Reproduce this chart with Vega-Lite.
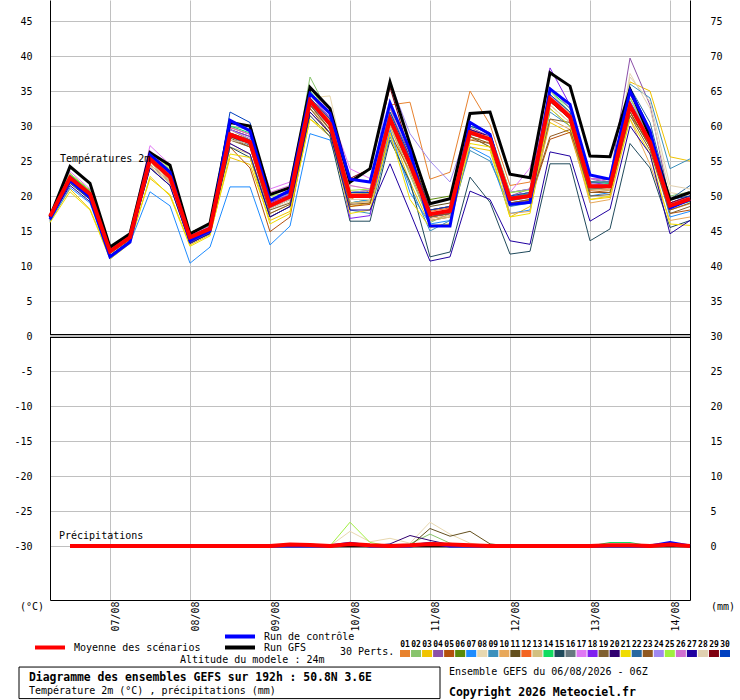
{
"$schema":"https://vega.github.io/schema/vega-lite/v6.json",
"width":640,"height":600,
"autosize":{"type":"none"},
"padding":{"left":50,"top":0,"right":50,"bottom":100},
"background":"#ffffff",
"config":{"font":"DejaVu Sans Mono","view":{"stroke":null},"axis":{"labelFont":"DejaVu Sans Mono"},"legend":{"labelFont":"DejaVu Sans Mono","labelColor":"#000000"},"text":{"font":"DejaVu Sans Mono","fontSize":10,"color":"#000000"}},
"datasets":{
"perts":[{"s":"01"},{"s":"02"},{"s":"03"},{"s":"04"},{"s":"05"},{"s":"06"},{"s":"07"},{"s":"08"},{"s":"09"},{"s":"10"},{"s":"11"},{"s":"12"},{"s":"13"},{"s":"14"},{"s":"15"},{"s":"16"},{"s":"17"},{"s":"18"},{"s":"19"},{"s":"20"},{"s":"21"},{"s":"22"},{"s":"23"},{"s":"24"},{"s":"25"},{"s":"26"},{"s":"27"},{"s":"28"},{"s":"29"},{"s":"30"}],
"steps":[{"k":0,"t":1785996000000},{"k":1,"t":1786017600000},{"k":2,"t":1786039200000},{"k":3,"t":1786060800000},{"k":4,"t":1786082400000},{"k":5,"t":1786104000000},{"k":6,"t":1786125600000},{"k":7,"t":1786147200000},{"k":8,"t":1786168800000},{"k":9,"t":1786190400000},{"k":10,"t":1786212000000},{"k":11,"t":1786233600000},{"k":12,"t":1786255200000},{"k":13,"t":1786276800000},{"k":14,"t":1786298400000},{"k":15,"t":1786320000000},{"k":16,"t":1786341600000},{"k":17,"t":1786363200000},{"k":18,"t":1786384800000},{"k":19,"t":1786406400000},{"k":20,"t":1786428000000},{"k":21,"t":1786449600000},{"k":22,"t":1786471200000},{"k":23,"t":1786492800000},{"k":24,"t":1786514400000},{"k":25,"t":1786536000000},{"k":26,"t":1786557600000},{"k":27,"t":1786579200000},{"k":28,"t":1786600800000},{"k":29,"t":1786622400000},{"k":30,"t":1786644000000},{"k":31,"t":1786665600000},{"k":32,"t":1786687200000}],
"temp":[
{"s":"01","kind":"pert","k":[0,1,2,3,4,5,6,7,8,9,10,11,12,13,14,15,16,17,18,19,20,21,22,23,24,25,26,27,28,29,30,31,32],"v":[17.0,22.9,20.6,12.2,14.3,25.8,23.0,14.5,15.9,29.5,28.0,19.2,20.3,34.0,30.8,19.5,20.8,33.0,33.4,22.4,23.4,35.0,30.2,21.5,22.0,33.0,30.5,20.8,21.0,32.0,27.0,18.0,18.9]},
{"s":"02","kind":"pert","k":[0,1,2,3,4,5,6,7,8,9,10,11,12,13,14,15,16,17,18,19,20,21,22,23,24,25,26,27,28,29,30,31,32],"v":[17.2,22.8,20.7,12.4,14.5,26.0,23.8,14.8,15.8,30.0,29.5,19.6,20.5,37.0,31.5,20.5,20.3,30.0,23.0,16.2,17.5,28.5,27.0,18.5,19.5,34.5,32.0,22.0,21.5,33.5,28.5,20.0,20.6]},
{"s":"03","kind":"pert","k":[0,1,2,3,4,5,6,7,8,9,10,11,12,13,14,15,16,17,18,19,20,21,22,23,24,25,26,27,28,29,30,31,32],"v":[16.4,21.0,18.1,11.2,13.4,22.5,20.2,13.0,14.5,25.5,24.5,16.5,17.8,31.0,28.5,18.5,19.0,29.5,22.0,15.8,16.0,27.0,26.5,17.0,18.5,30.5,29.0,19.5,19.8,36.3,35.0,25.6,25.0]},
{"s":"04","kind":"pert","k":[0,1,2,3,4,5,6,7,8,9,10,11,12,13,14,15,16,17,18,19,20,21,22,23,24,25,26,27,28,29,30,31,32],"v":[16.8,22.4,20.0,12.0,13.9,25.0,22.5,13.8,15.0,28.5,27.3,18.3,19.5,33.2,30.0,20.5,20.5,31.5,25.0,17.0,17.5,29.8,28.5,20.0,21.0,35.5,32.5,22.0,22.5,39.7,33.0,19.0,19.8]},
{"s":"05","kind":"pert","k":[0,1,2,3,4,5,6,7,8,9,10,11,12,13,14,15,16,17,18,19,20,21,22,23,24,25,26,27,28,29,30,31,32],"v":[16.6,22.0,19.5,11.8,13.8,24.5,22.0,13.5,14.8,27.0,24.0,14.9,17.0,32.0,29.0,18.5,18.8,29.0,23.5,16.5,17.0,28.0,27.5,19.0,19.3,28.1,29.1,20.5,20.8,31.5,27.5,17.5,18.0]},
{"s":"06","kind":"pert","k":[0,1,2,3,4,5,6,7,8,9,10,11,12,13,14,15,16,17,18,19,20,21,22,23,24,25,26,27,28,29,30,31,32],"v":[17.3,23.0,20.8,12.5,14.6,25.5,23.5,14.4,15.5,29.5,28.5,19.5,20.0,34.5,31.0,19.0,19.5,32.5,27.0,19.5,20.0,29.5,28.0,19.8,20.5,33.5,31.0,21.0,21.2,32.0,27.0,18.5,19.8]},
{"s":"07","kind":"pert","k":[0,1,2,3,4,5,6,7,8,9,10,11,12,13,14,15,16,17,18,19,20,21,22,23,24,25,26,27,28,29,30,31,32],"v":[16.3,21.2,19.0,11.0,13.3,20.6,18.6,10.4,12.7,21.3,21.3,13.0,15.7,28.9,28.0,19.0,19.5,29.5,20.5,16.0,16.5,27.0,25.5,17.5,18.0,32.5,30.0,20.0,20.5,33.0,28.0,17.0,17.8]},
{"s":"08","kind":"pert","k":[0,1,2,3,4,5,6,7,8,9,10,11,12,13,14,15,16,17,18,19,20,21,22,23,24,25,26,27,28,29,30,31,32],"v":[17.0,22.5,20.2,12.2,14.0,24.0,21.5,13.2,14.6,28.0,27.0,18.0,19.2,34.0,34.3,21.5,21.0,30.5,25.5,18.0,18.2,30.0,27.5,19.5,20.0,33.0,30.5,21.5,21.0,37.5,32.5,20.5,20.0]},
{"s":"09","kind":"pert","k":[0,1,2,3,4,5,6,7,8,9,10,11,12,13,14,15,16,17,18,19,20,21,22,23,24,25,26,27,28,29,30,31,32],"v":[17.0,22.7,20.4,12.0,14.2,25.5,22.8,14.0,15.4,28.0,27.5,18.5,19.8,33.0,30.0,18.0,17.5,28.5,21.5,15.0,16.5,26.5,25.0,18.5,19.0,32.0,30.0,21.5,21.8,36.0,34.0,23.9,25.3]},
{"s":"10","kind":"pert","k":[0,1,2,3,4,5,6,7,8,9,10,11,12,13,14,15,16,17,18,19,20,21,22,23,24,25,26,27,28,29,30,31,32],"v":[16.9,22.3,20.0,11.9,13.8,24.8,22.2,13.6,14.9,27.5,26.0,17.0,18.5,32.5,29.5,19.0,19.2,30.0,23.5,16.8,17.2,28.0,28.5,17.5,17.8,31.0,29.5,19.0,19.5,31.0,24.5,16.5,17.0]},
{"s":"11","kind":"pert","k":[0,1,2,3,4,5,6,7,8,9,10,11,12,13,14,15,16,17,18,19,20,21,22,23,24,25,26,27,28,29,30,31,32],"v":[17.1,22.6,20.3,12.3,14.2,25.2,22.9,14.3,15.5,29.0,28.0,18.8,19.9,33.0,29.5,20.5,20.8,32.0,26.0,18.5,19.0,30.5,29.0,20.5,21.0,34.0,31.5,22.5,22.0,33.0,28.0,19.5,20.5]},
{"s":"12","kind":"pert","k":[0,1,2,3,4,5,6,7,8,9,10,11,12,13,14,15,16,17,18,19,20,21,22,23,24,25,26,27,28,29,30,31,32],"v":[17.4,23.2,20.8,12.5,14.5,26.0,23.5,14.5,15.7,29.8,28.8,19.0,20.4,34.0,31.0,20.3,20.3,31.5,25.5,17.8,18.3,29.5,28.5,19.5,20.5,34.5,31.8,21.3,21.0,33.0,27.8,18.3,19.8]},
{"s":"13","kind":"pert","k":[0,1,2,3,4,5,6,7,8,9,10,11,12,13,14,15,16,17,18,19,20,21,22,23,24,25,26,27,28,29,30,31,32],"v":[16.8,22.0,19.8,11.7,13.7,24.2,21.8,13.4,14.8,27.0,26.0,17.5,18.8,32.5,30.0,19.0,19.3,30.0,24.0,16.5,17.0,28.5,27.5,19.0,19.3,33.5,31.0,21.0,20.8,34.5,29.0,18.0,19.0]},
{"s":"14","kind":"pert","k":[0,1,2,3,4,5,6,7,8,9,10,11,12,13,14,15,16,17,18,19,20,21,22,23,24,25,26,27,28,29,30,31,32],"v":[17.3,23.0,20.8,12.4,14.4,26.0,23.5,14.6,15.8,30.0,29.0,19.5,20.5,35.0,31.5,20.5,20.5,31.5,25.0,17.5,18.0,30.0,29.0,20.0,20.3,35.0,32.5,22.0,21.8,34.0,28.5,18.5,19.2]},
{"s":"15","kind":"pert","k":[0,1,2,3,4,5,6,7,8,9,10,11,12,13,14,15,16,17,18,19,20,21,22,23,24,25,26,27,28,29,30,31,32],"v":[16.5,21.8,19.5,11.5,13.6,24.0,21.5,13.3,14.6,27.0,25.5,17.0,18.5,31.5,28.5,16.4,16.4,28.0,22.0,11.3,12.0,22.7,19.1,11.7,12.1,24.6,24.6,13.6,15.3,27.5,24.0,15.5,16.5]},
{"s":"16","kind":"pert","k":[0,1,2,3,4,5,6,7,8,9,10,11,12,13,14,15,16,17,18,19,20,21,22,23,24,25,26,27,28,29,30,31,32],"v":[17.0,22.5,20.1,12.0,14.0,25.0,22.5,14.0,15.2,28.5,27.2,18.2,19.5,33.5,30.0,20.0,19.8,30.5,24.3,17.0,17.6,28.8,28.0,19.3,19.8,33.5,31.0,21.0,21.2,32.5,27.5,18.5,19.5]},
{"s":"17","kind":"pert","k":[0,1,2,3,4,5,6,7,8,9,10,11,12,13,14,15,16,17,18,19,20,21,22,23,24,25,26,27,28,29,30,31,32],"v":[17.2,23.5,21.0,12.6,14.7,27.2,24.5,14.8,16.0,30.5,29.5,21.0,22.0,35.5,32.0,23.9,22.5,31.0,24.5,17.0,17.5,29.0,28.0,20.5,24.0,34.5,32.0,22.5,22.0,34.0,28.5,19.0,20.0]},
{"s":"18","kind":"pert","k":[0,1,2,3,4,5,6,7,8,9,10,11,12,13,14,15,16,17,18,19,20,21,22,23,24,25,26,27,28,29,30,31,32],"v":[17.1,22.8,20.5,12.2,14.2,25.8,23.0,14.3,15.6,29.5,28.5,19.0,20.2,34.5,31.2,16.8,17.2,31.5,25.5,17.0,17.5,29.5,28.5,20.0,20.5,38.3,33.0,22.0,21.5,33.5,28.0,18.5,19.3]},
{"s":"19","kind":"pert","k":[0,1,2,3,4,5,6,7,8,9,10,11,12,13,14,15,16,17,18,19,20,21,22,23,24,25,26,27,28,29,30,31,32],"v":[16.9,22.2,19.8,11.8,13.8,24.5,22.0,13.5,15.0,28.0,27.0,18.0,19.0,32.5,29.0,19.5,19.5,30.5,24.0,17.0,17.5,28.5,27.0,19.0,19.5,31.0,30.5,20.0,20.2,31.5,26.5,17.5,18.5]},
{"s":"20","kind":"pert","k":[0,1,2,3,4,5,6,7,8,9,10,11,12,13,14,15,16,17,18,19,20,21,22,23,24,25,26,27,28,29,30,31,32],"v":[17.0,22.6,20.2,12.1,14.1,25.3,22.6,14.0,15.3,28.8,27.8,18.8,20.0,33.5,30.0,20.2,20.2,31.5,25.0,17.5,18.0,29.5,28.5,20.0,20.5,34.0,31.5,21.5,21.5,32.5,28.0,19.0,20.0]},
{"s":"21","kind":"pert","k":[0,1,2,3,4,5,6,7,8,9,10,11,12,13,14,15,16,17,18,19,20,21,22,23,24,25,26,27,28,29,30,31,32],"v":[16.2,20.6,18.0,11.0,13.2,22.8,20.0,12.8,14.3,26.0,25.5,16.0,17.5,31.0,29.0,17.5,18.0,29.0,19.5,15.5,16.0,27.5,27.0,17.0,17.5,32.5,30.0,19.5,20.0,31.0,26.0,16.0,15.8]},
{"s":"22","kind":"pert","k":[0,1,2,3,4,5,6,7,8,9,10,11,12,13,14,15,16,17,18,19,20,21,22,23,24,25,26,27,28,29,30,31,32],"v":[17.1,22.7,20.3,12.2,14.1,25.5,23.0,14.2,15.4,29.0,28.0,18.7,20.0,33.8,30.5,19.8,20.0,31.5,25.0,17.0,17.8,29.0,28.0,19.8,20.2,34.0,31.5,21.5,21.5,35.5,30.5,19.5,21.5]},
{"s":"23","kind":"pert","k":[0,1,2,3,4,5,6,7,8,9,10,11,12,13,14,15,16,17,18,19,20,21,22,23,24,25,26,27,28,29,30,31,32],"v":[17.0,22.4,20.0,11.9,13.9,25.0,22.4,13.9,15.1,28.3,27.0,17.5,18.8,33.0,29.5,18.8,19.0,30.5,24.0,17.0,17.5,28.5,27.5,19.0,19.5,28.5,29.5,20.5,20.5,32.0,27.0,18.0,19.0]},
{"s":"24","kind":"pert","k":[0,1,2,3,4,5,6,7,8,9,10,11,12,13,14,15,16,17,18,19,20,21,22,23,24,25,26,27,28,29,30,31,32],"v":[17.2,22.8,20.4,12.3,14.3,25.6,23.0,14.2,15.4,29.5,28.2,19.3,20.3,34.0,30.5,20.5,20.8,36.3,28.9,25.0,22.0,30.5,29.0,20.5,21.0,34.5,31.5,21.8,21.5,33.0,28.0,19.0,20.0]},
{"s":"25","kind":"pert","k":[0,1,2,3,4,5,6,7,8,9,10,11,12,13,14,15,16,17,18,19,20,21,22,23,24,25,26,27,28,29,30,31,32],"v":[17.3,23.2,20.8,12.6,14.6,26.2,24.0,14.8,16.0,30.5,30.0,20.0,20.5,35.5,31.5,20.8,21.0,32.0,25.5,18.0,18.5,30.0,29.0,20.5,20.8,35.0,32.0,22.0,22.0,34.0,29.0,19.5,20.5]},
{"s":"26","kind":"pert","k":[0,1,2,3,4,5,6,7,8,9,10,11,12,13,14,15,16,17,18,19,20,21,22,23,24,25,26,27,28,29,30,31,32],"v":[17.1,22.9,20.5,12.3,14.3,26.5,23.5,14.4,15.7,29.8,28.8,20.5,21.5,34.5,31.0,21.5,21.0,32.5,25.5,18.0,18.5,30.5,29.0,20.0,20.5,35.5,32.5,22.5,22.5,34.5,29.0,19.0,19.8]},
{"s":"27","kind":"pert","k":[0,1,2,3,4,5,6,7,8,9,10,11,12,13,14,15,16,17,18,19,20,21,22,23,24,25,26,27,28,29,30,31,32],"v":[16.6,21.5,19.2,11.5,13.6,24.0,21.5,13.2,14.7,27.5,26.0,17.0,18.5,32.0,29.0,18.0,18.0,24.6,17.7,10.7,11.3,20.7,19.5,13.6,13.1,26.3,25.7,16.4,18.1,30.0,26.0,14.6,16.5]},
{"s":"28","kind":"pert","k":[0,1,2,3,4,5,6,7,8,9,10,11,12,13,14,15,16,17,18,19,20,21,22,23,24,25,26,27,28,29,30,31,32],"v":[17.0,22.5,20.2,12.1,14.0,24.5,22.0,13.6,15.0,28.0,27.5,18.2,19.5,34.0,32.5,19.5,19.5,30.5,24.5,17.5,18.0,29.0,28.5,20.0,20.5,35.0,31.5,21.5,21.0,37.0,33.5,21.5,21.0]},
{"s":"29","kind":"pert","k":[0,1,2,3,4,5,6,7,8,9,10,11,12,13,14,15,16,17,18,19,20,21,22,23,24,25,26,27,28,29,30,31,32],"v":[17.1,22.7,20.3,12.2,14.2,25.3,22.8,14.1,15.3,28.5,27.5,18.5,19.8,33.5,30.0,22.5,23.9,35.5,26.0,18.0,18.5,29.0,28.0,19.5,20.0,33.5,31.0,21.5,21.5,33.0,28.0,19.0,20.0]},
{"s":"30","kind":"pert","k":[0,1,2,3,4,5,6,7,8,9,10,11,12,13,14,15,16,17,18,19,20,21,22,23,24,25,26,27,28,29,30,31,32],"v":[17.2,22.9,20.5,12.3,14.3,25.7,23.2,14.3,15.5,32.0,30.5,19.5,20.5,34.0,31.0,20.5,20.5,32.0,25.5,18.0,18.5,30.0,29.0,20.0,20.5,34.5,32.0,22.0,22.0,35.5,29.5,19.5,20.0]},
{"s":"Run GFS","kind":"gfs","k":[0,1,2,3,4,5,6,7,8,9,10,11,12,13,14,15,16,17,18,19,20,21,22,23,24,25,26,27,28,29,30,31,32],"v":[17.0,24.2,21.8,12.7,14.6,26.2,24.4,14.6,16.1,30.5,30.0,20.2,21.2,35.5,32.5,22.0,23.9,36.3,27.4,18.9,19.6,31.8,32.0,23.1,22.6,37.6,35.7,25.7,25.6,35.2,28.5,19.5,20.5]},
{"s":"Run de contrôle","kind":"ctl","k":[0,1,2,3,4,5,6,7,8,9,10,11,12,13,14,15,16,17,18,19,20,21,22,23,24,25,26,27,28,29,30,31,32],"v":[16.7,22.2,19.8,11.3,13.4,25.9,23.4,13.6,15.0,30.8,29.3,19.3,20.8,34.6,31.8,22.4,22.0,33.3,26.5,15.7,15.7,30.5,28.8,18.8,19.1,35.3,33.1,23.0,22.4,35.0,29.3,18.3,19.5]},
{"s":"Moyenne des scénarios","kind":"mean","k":[0,1,2,3,4,5,6,7,8,9,10,11,12,13,14,15,16,17,18,19,20,21,22,23,24,25,26,27,28,29,30,31,32],"v":[17.1,22.6,20.3,12.1,14.1,25.3,22.7,14.1,15.3,28.8,27.7,18.6,19.9,33.6,30.3,20.0,20.0,31.0,24.6,17.4,17.9,29.1,28.1,19.6,20.0,33.9,31.3,21.4,21.4,32.9,27.7,18.6,19.6]}
],
"precip":[
{"s":"01","kind":"pert","k":[1,2,3,4,5,6,7,8,9,10,11,12,13,14,15,16,17,18,19,20,21,22,23,24,25,26,27,28,29,30,31,32],"v":[0,0,0,0,0,0,0,0,0,0,0,0.3,0.3,0,0,0,0,0,0,0,0,0,0,0,0,0,0,0,0,0,0,0]},
{"s":"02","kind":"pert","k":[1,2,3,4,5,6,7,8,9,10,11,12,13,14,15,16,17,18,19,20,21,22,23,24,25,26,27,28,29,30,31,32],"v":[0,0,0,0,0,0,0,0,0,0,0,0,0,0,0,0,0,0.3,1.7,0.4,0,0,0,0,0,0,0,0,0,0,0,0]},
{"s":"04","kind":"pert","k":[1,2,3,4,5,6,7,8,9,10,11,12,13,14,15,16,17,18,19,20,21,22,23,24,25,26,27,28,29,30,31,32],"v":[0,0,0,0,0,0,0,0,0,0,0,0,0,0,0,0,0,0,0,0,0,0,0,0,0,0,0,0,0,0,0.4,0]},
{"s":"08","kind":"pert","k":[1,2,3,4,5,6,7,8,9,10,11,12,13,14,15,16,17,18,19,20,21,22,23,24,25,26,27,28,29,30,31,32],"v":[0,0,0,0,0,0,0,0,0,0,0,0,0,0,2.1,0.6,1.1,0.4,3.4,1.7,0.4,0,0,0,0,0,0,0,0,0,0,0]},
{"s":"11","kind":"pert","k":[1,2,3,4,5,6,7,8,9,10,11,12,13,14,15,16,17,18,19,20,21,22,23,24,25,26,27,28,29,30,31,32],"v":[0,0,0,0,0,0,0,0,0,0,0,0,0,0,0,0,0,0,2.5,1.4,2.1,0.3,0,0,0,0,0,0,0,0,0,0]},
{"s":"14","kind":"pert","k":[1,2,3,4,5,6,7,8,9,10,11,12,13,14,15,16,17,18,19,20,21,22,23,24,25,26,27,28,29,30,31,32],"v":[0,0,0,0,0,0,0,0,0,0,0,0,0,0,0,0,0,0,0,0,0,0,0,0,0,0,0,0.5,0.5,0,0,0]},
{"s":"20","kind":"pert","k":[1,2,3,4,5,6,7,8,9,10,11,12,13,14,15,16,17,18,19,20,21,22,23,24,25,26,27,28,29,30,31,32],"v":[0,0,0,0,0,0,0,0,0,0,0,0,0,0,0,0,0.3,1.5,0.8,0.2,0,0,0,0,0,0,0,0,0,0,0,0]},
{"s":"25","kind":"pert","k":[1,2,3,4,5,6,7,8,9,10,11,12,13,14,15,16,17,18,19,20,21,22,23,24,25,26,27,28,29,30,31,32],"v":[0,0,0,0,0,0,0,0,0,0,0,0,0,0,3.4,0.5,0,0,0,0,0,0,0,0,0,0,0,0,0,0,0,0]},
{"s":"Run GFS","kind":"gfs","k":[1,2,3,4,5,6,7,8,9,10,11,12,13,14,15,16,17,18,19,20,21,22,23,24,25,26,27,28,29,30,31,32],"v":[0,0,0,0,0,0,0,0,0,0,0,0,0,0,0,0,0,0,0,0,0,0,0,0,0,0,0,0,0,0,0,0]},
{"s":"Run de contrôle","kind":"ctl","k":[1,2,3,4,5,6,7,8,9,10,11,12,13,14,15,16,17,18,19,20,21,22,23,24,25,26,27,28,29,30,31,32],"v":[0,0,0,0,0,0,0,0,0,0,0,0,0,0,0.4,0,0,0,0.4,0,0,0,0,0,0,0,0,0,0,0,0.5,0]},
{"s":"Moyenne des scénarios","kind":"mean","k":[1,2,3,4,5,6,7,8,9,10,11,12,13,14,15,16,17,18,19,20,21,22,23,24,25,26,27,28,29,30,31,32],"v":[0,0,0,0,0,0,0,0,0,0,0,0.2,0.15,0,0.3,0.1,0,0.1,0.3,0.2,0.1,0,0,0,0,0,0,0.1,0.1,0,0.2,0]}
]
},
"resolve":{"scale":{"x":"independent","y":"independent","color":"independent"}},
"layer":[
{"data":{"name":"temp"},
 "transform":[{"filter":{"field":"kind","equal":"pert"}},{"flatten":["k","v"]},{"lookup":"k","from":{"data":{"name":"steps"},"key":"k","fields":["t"]}}],
 "mark":{"type":"line","strokeWidth":1},
 "encoding":{
  "x":{"field":"t","type":"temporal","scale":{"type":"utc","domain":[1785996000000,1786687200000]},
   "axis":{"orient":"bottom","values":[1786060800000,1786147200000,1786233600000,1786320000000,1786406400000,1786492800000,1786579200000,1786665600000],"labelExpr":"utcFormat(datum.value, '%d/%m')","labelAngle":270,"labelAlign":"right","labelBaseline":"top","labelPadding":1,"labelBound":false,"labelFlush":false,"labelOverlap":false,"ticks":false,"grid":true,"gridColor":"#c0c0c0","domainColor":"#000000","title":null,"labelFontSize":10,"labelColor":"#000000"}},
  "y":{"field":"v","type":"quantitative","scale":{"domain":[-37.714,48],"nice":false,"zero":false},
   "axis":{"orient":"left","values":[-30,-25,-20,-15,-10,-5,0,5,10,15,20,25,30,35,40,45],"labelExpr":"replace(datum.label,'−','-')","ticks":false,"grid":true,"gridColor":"#c0c0c0","domainColor":"#000000","labelPadding":18,"title":null,"labelFontSize":10,"labelColor":"#000000","labelFlush":false,"labelOverlap":false}},
  "color":{"field":"s","type":"nominal","scale":{"domain":["01","02","03","04","05","06","07","08","09","10","11","12","13","14","15","16","17","18","19","20","21","22","23","24","25","26","27","28","29","30"],"range":["#e8822e","#88c46c","#f0c400","#8c50a8","#b4500c","#5a8a0a","#1e8cff","#e8d8b0","#3c90bc","#e8a85a","#64501e","#f46420","#d2c080","#10dc60","#204a5c","#687880","#e078f4","#8020f0","#806030","#300070","#f0dc00","#2868a0","#905820","#a088f0","#a0f040","#d070d0","#2000a0","#e0d0b0","#800010","#0040c0"]},"legend":null}
 }},
{"data":{"name":"precip"},
 "transform":[{"filter":{"field":"kind","equal":"pert"}},{"flatten":["k","v"]},{"lookup":"k","from":{"data":{"name":"steps"},"key":"k","fields":["t"]}}],
 "mark":{"type":"line","strokeWidth":1},
 "encoding":{
  "x":{"field":"t","type":"temporal","scale":{"type":"utc","domain":[1785996000000,1786687200000]},"axis":null},
  "y":{"field":"v","type":"quantitative","scale":{"domain":[-7.714,78],"nice":false,"zero":false},
   "axis":{"orient":"right","values":[0,5,10,15,20,25,30,35,40,45,50,55,60,65,70,75],"ticks":false,"grid":false,"domainColor":"#000000","labelPadding":20,"title":null,"labelFontSize":10,"labelColor":"#000000","labelFlush":false,"labelOverlap":false}},
  "color":{"field":"s","type":"nominal","scale":{"domain":["01","02","03","04","05","06","07","08","09","10","11","12","13","14","15","16","17","18","19","20","21","22","23","24","25","26","27","28","29","30"],"range":["#e8822e","#88c46c","#f0c400","#8c50a8","#b4500c","#5a8a0a","#1e8cff","#e8d8b0","#3c90bc","#e8a85a","#64501e","#f46420","#d2c080","#10dc60","#204a5c","#687880","#e078f4","#8020f0","#806030","#300070","#f0dc00","#2868a0","#905820","#a088f0","#a0f040","#d070d0","#2000a0","#e0d0b0","#800010","#0040c0"]},"legend":null}
 }},
{"data":{"name":"temp"},
 "transform":[{"filter":{"field":"kind","oneOf":["ctl","gfs"]}},{"flatten":["k","v"]},{"lookup":"k","from":{"data":{"name":"steps"},"key":"k","fields":["t"]}}],
 "mark":{"type":"line","strokeWidth":3},
 "encoding":{
  "x":{"field":"t","type":"temporal","scale":{"type":"utc","domain":[1785996000000,1786687200000]},"axis":null},
  "y":{"field":"v","type":"quantitative","scale":{"domain":[-37.714,48],"nice":false,"zero":false},"axis":null},
  "color":{"field":"s","type":"nominal","scale":{"domain":["Run de contrôle","Run GFS"],"range":["#0000ff","#000000"]},
   "legend":{"orient":"none","legendX":173,"legendY":631,"direction":"vertical","title":null,"padding":0,"symbolType":"stroke","symbolSize":900,"symbolStrokeWidth":4,"clipHeight":11,"rowPadding":0,"labelOffset":7,"labelFontSize":10,"labelColor":"#000000","labelBaseline":"middle","labelLimit":300}}
 }},
{"data":{"name":"precip"},
 "transform":[{"filter":{"field":"kind","oneOf":["ctl","gfs"]}},{"flatten":["k","v"]},{"lookup":"k","from":{"data":{"name":"steps"},"key":"k","fields":["t"]}}],
 "mark":{"type":"line","strokeWidth":3},
 "encoding":{
  "x":{"field":"t","type":"temporal","scale":{"type":"utc","domain":[1785996000000,1786687200000]},"axis":null},
  "y":{"field":"v","type":"quantitative","scale":{"domain":[-7.714,78],"nice":false,"zero":false},"axis":null},
  "color":{"field":"s","type":"nominal","scale":{"domain":["Run de contrôle","Run GFS"],"range":["#0000ff","#000000"]},"legend":null}
 }},
{"data":{"name":"temp"},
 "transform":[{"filter":{"field":"kind","equal":"mean"}},{"flatten":["k","v"]},{"lookup":"k","from":{"data":{"name":"steps"},"key":"k","fields":["t"]}}],
 "mark":{"type":"line","strokeWidth":4},
 "encoding":{
  "x":{"field":"t","type":"temporal","scale":{"type":"utc","domain":[1785996000000,1786687200000]},"axis":null},
  "y":{"field":"v","type":"quantitative","scale":{"domain":[-37.714,48],"nice":false,"zero":false},"axis":null},
  "color":{"field":"s","type":"nominal","scale":{"domain":["Moyenne des scénarios"],"range":["#ff0000"]},
   "legend":{"orient":"none","legendX":-17,"legendY":630.5,"title":null,"padding":0,"symbolType":"stroke","symbolSize":900,"symbolStrokeWidth":4,"labelOffset":7,"labelFontSize":10,"labelColor":"#000000","labelBaseline":"middle","labelLimit":300}}
 }},
{"data":{"name":"precip"},
 "transform":[{"filter":{"field":"kind","equal":"mean"}},{"flatten":["k","v"]},{"lookup":"k","from":{"data":{"name":"steps"},"key":"k","fields":["t"]}}],
 "mark":{"type":"line","strokeWidth":4,"color":"#ff0000"},
 "encoding":{
  "x":{"field":"t","type":"temporal","scale":{"type":"utc","domain":[1785996000000,1786687200000]},"axis":null},
  "y":{"field":"v","type":"quantitative","scale":{"domain":[-7.714,78],"nice":false,"zero":false},"axis":null}
 }},
{"data":{"values":[{}]},
 "mark":{"type":"rule","color":"#000000","strokeWidth":4},
 "encoding":{"y":{"datum":0,"type":"quantitative","scale":{"domain":[-37.714,48],"nice":false,"zero":false},"axis":null}}},
{"data":{"values":[{}]},
 "mark":{"type":"rule","color":"#ffffff","strokeWidth":1.3},
 "encoding":{"y":{"datum":0,"type":"quantitative","scale":{"domain":[-37.714,48],"nice":false,"zero":false},"axis":null}}},
{"data":{"name":"perts"},
 "mark":{"type":"rect"},
 "encoding":{
  "x":{"field":"s","type":"ordinal","scale":{"type":"band","domain":["01","02","03","04","05","06","07","08","09","10","11","12","13","14","15","16","17","18","19","20","21","22","23","24","25","26","27","28","29","30"],"range":[350,680],"paddingInner":0.09,"paddingOuter":0},"axis":null},
  "y":{"datum":-44.857,"type":"quantitative","scale":{"domain":[-37.714,48],"nice":false,"zero":false},"axis":null},
  "y2":{"datum":-45.857},
  "color":{"field":"s","type":"nominal","scale":{"domain":["01","02","03","04","05","06","07","08","09","10","11","12","13","14","15","16","17","18","19","20","21","22","23","24","25","26","27","28","29","30"],"range":["#e8822e","#88c46c","#f0c400","#8c50a8","#b4500c","#5a8a0a","#1e8cff","#e8d8b0","#3c90bc","#e8a85a","#64501e","#f46420","#d2c080","#10dc60","#204a5c","#687880","#e078f4","#8020f0","#806030","#300070","#f0dc00","#2868a0","#905820","#a088f0","#a0f040","#d070d0","#2000a0","#e0d0b0","#800010","#0040c0"]},"legend":null}
 }},
{"data":{"name":"perts"},
 "mark":{"type":"text","align":"center","baseline":"alphabetic","fontSize":8,"fontWeight":"bold"},
 "encoding":{
  "x":{"field":"s","type":"ordinal","scale":{"type":"band","domain":["01","02","03","04","05","06","07","08","09","10","11","12","13","14","15","16","17","18","19","20","21","22","23","24","25","26","27","28","29","30"],"range":[350,680],"paddingInner":0.09,"paddingOuter":0},"axis":null},
  "y":{"datum":-44.43,"type":"quantitative","scale":{"domain":[-37.714,48],"nice":false,"zero":false},"axis":null},
  "text":{"field":"s","type":"nominal"}
 }},
{"data":{"values":[{}]},
 "mark":{"type":"text","align":"left","baseline":"alphabetic","fontSize":10},
 "encoding":{"x":{"datum":1786006800000,"type":"temporal","scale":{"type":"utc","domain":[1785996000000,1786687200000]},"axis":null},"y":{"datum":24.86,"type":"quantitative","scale":{"domain":[-37.714,48],"nice":false,"zero":false},"axis":null},"text":{"value":"Températures 2m"}}},
{"data":{"values":[{}]},
 "mark":{"type":"text","align":"left","baseline":"alphabetic","fontSize":10},
 "encoding":{"x":{"datum":1786005720000,"type":"temporal","scale":{"type":"utc","domain":[1785996000000,1786687200000]},"axis":null},"y":{"datum":-29.0,"type":"quantitative","scale":{"domain":[-37.714,48],"nice":false,"zero":false},"axis":null},"text":{"value":"Précipitations"}}},
{"data":{"values":[{}]},
 "mark":{"type":"text","align":"left","baseline":"alphabetic","fontSize":10},
 "encoding":{"x":{"datum":1785963600000,"type":"temporal","scale":{"type":"utc","domain":[1785996000000,1786687200000]},"axis":null},"y":{"datum":-39.14,"type":"quantitative","scale":{"domain":[-37.714,48],"nice":false,"zero":false},"axis":null},"text":{"value":"(°C)"}}},
{"data":{"values":[{}]},
 "mark":{"type":"text","align":"left","baseline":"alphabetic","fontSize":10},
 "encoding":{"x":{"datum":1786709880000,"type":"temporal","scale":{"type":"utc","domain":[1785996000000,1786687200000]},"axis":null},"y":{"datum":-39.14,"type":"quantitative","scale":{"domain":[-37.714,48],"nice":false,"zero":false},"axis":null},"text":{"value":"(mm)"}}},
{"data":{"values":[{}]},
 "mark":{"type":"text","align":"left","baseline":"alphabetic","fontSize":10},
 "encoding":{"x":{"datum":1786136400000,"type":"temporal","scale":{"type":"utc","domain":[1785996000000,1786687200000]},"axis":null},"y":{"datum":-46.71,"type":"quantitative","scale":{"domain":[-37.714,48],"nice":false,"zero":false},"axis":null},"text":{"value":"Altitude du modele : 24m"}}},
{"data":{"values":[{}]},
 "mark":{"type":"text","align":"left","baseline":"alphabetic","fontSize":10},
 "encoding":{"x":{"datum":1786309200000,"type":"temporal","scale":{"type":"utc","domain":[1785996000000,1786687200000]},"axis":null},"y":{"datum":-45.57,"type":"quantitative","scale":{"domain":[-37.714,48],"nice":false,"zero":false},"axis":null},"text":{"value":"30 Perts."}}},
{"data":{"values":[{}]},
 "mark":{"type":"rect","fill":"#ffffff","stroke":"#000000","strokeWidth":1},
 "encoding":{"x":{"datum":1785962520000,"type":"temporal","scale":{"type":"utc","domain":[1785996000000,1786687200000]},"axis":null},"x2":{"datum":1786417200000},"y":{"datum":-47.29,"type":"quantitative","scale":{"domain":[-37.714,48],"nice":false,"zero":false},"axis":null},"y2":{"datum":-51.8}}},
{"data":{"values":[{}]},
 "mark":{"type":"text","align":"left","baseline":"alphabetic","fontSize":11.4,"fontWeight":"bold"},
 "encoding":{"x":{"datum":1785973320000,"type":"temporal","scale":{"type":"utc","domain":[1785996000000,1786687200000]},"axis":null},"y":{"datum":-49.29,"type":"quantitative","scale":{"domain":[-37.714,48],"nice":false,"zero":false},"axis":null},"text":{"value":"Diagramme des ensembles GEFS sur 192h : 50.8N 3.6E"}}},
{"data":{"values":[{}]},
 "mark":{"type":"text","align":"left","baseline":"alphabetic","fontSize":10},
 "encoding":{"x":{"datum":1785973320000,"type":"temporal","scale":{"type":"utc","domain":[1785996000000,1786687200000]},"axis":null},"y":{"datum":-51.14,"type":"quantitative","scale":{"domain":[-37.714,48],"nice":false,"zero":false},"axis":null},"text":{"value":"Température 2m (°C) , précipitations (mm)"}}},
{"data":{"values":[{}]},
 "mark":{"type":"text","align":"left","baseline":"alphabetic","fontSize":10},
 "encoding":{"x":{"datum":1786426920000,"type":"temporal","scale":{"type":"utc","domain":[1785996000000,1786687200000]},"axis":null},"y":{"datum":-48.43,"type":"quantitative","scale":{"domain":[-37.714,48],"nice":false,"zero":false},"axis":null},"text":{"value":"Ensemble GEFS du 06/08/2026 - 06Z"}}},
{"data":{"values":[{}]},
 "mark":{"type":"text","align":"left","baseline":"alphabetic","fontSize":11.5,"fontWeight":"bold"},
 "encoding":{"x":{"datum":1786426920000,"type":"temporal","scale":{"type":"utc","domain":[1785996000000,1786687200000]},"axis":null},"y":{"datum":-51.43,"type":"quantitative","scale":{"domain":[-37.714,48],"nice":false,"zero":false},"axis":null},"text":{"value":"Copyright 2026 Meteociel.fr"}}}
]
}
